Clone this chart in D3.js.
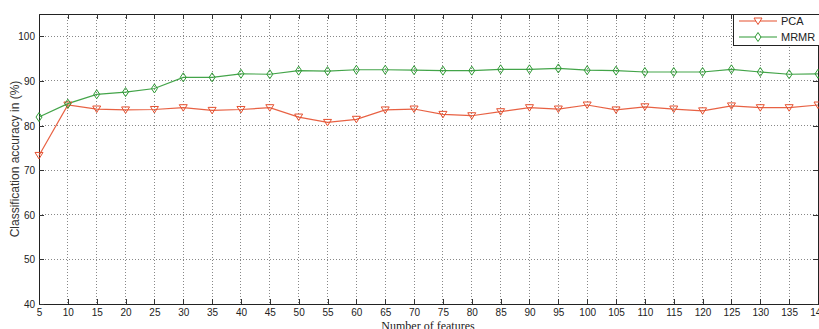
<!DOCTYPE html>
<html><head><meta charset="utf-8">
<script src="https://cdn.jsdelivr.net/npm/d3@7"></script>
<style>body{margin:0;background:#fff}svg{display:block}</style>
</head><body>
<svg id="c" width="819" height="329"></svg>
<script>
const features = [5,10,15,20,25,30,35,40,45,50,55,60,65,70,75,80,85,90,95,100,105,110,115,120,125,130,135,140];
const pca  = [73.3,84.6,83.7,83.5,83.6,84.0,83.4,83.6,84.0,81.9,80.7,81.4,83.5,83.7,82.5,82.2,83.1,84.0,83.7,84.6,83.5,84.2,83.7,83.3,84.4,84.0,84.0,84.6];
const mrmr = [81.9,84.9,87.0,87.5,88.3,90.8,90.8,91.6,91.5,92.3,92.2,92.5,92.5,92.4,92.3,92.3,92.6,92.6,92.8,92.4,92.3,92.0,92.0,92.0,92.6,92.0,91.5,91.6];
const yTicks = [40,50,60,70,80,90,100];
const seriesNames = ["PCA","MRMR"];

const svg = d3.select("#c");
const L=39, R=818, T=14, B=304;
const x = d3.scaleLinear().domain([5,140]).range([L,R]);
const y = d3.scaleLinear().domain([40,105]).range([B,T]);
const tickFont = "Liberation Sans, Arial, sans-serif";

// grid
const g = svg.append("g");
g.selectAll(".vg").data(features.slice(1,-1)).enter().append("line")
  .attr("x1",d=>x(d)).attr("x2",d=>x(d)).attr("y1",T).attr("y2",B)
  .attr("stroke","#888").attr("stroke-width",1).attr("stroke-dasharray","1,2").attr("shape-rendering","crispEdges");
g.selectAll(".hg").data(yTicks.slice(1)).enter().append("line")
  .attr("x1",L).attr("x2",R).attr("y1",d=>y(d)).attr("y2",d=>y(d))
  .attr("stroke","#888").attr("stroke-width",1).attr("stroke-dasharray","1,2").attr("shape-rendering","crispEdges");

// axes
const xb = d3.axisBottom(x).tickValues(features).tickSizeInner(-5).tickSizeOuter(0).tickPadding(5);
const xt = d3.axisTop(x).tickValues(features).tickSizeInner(-5).tickSizeOuter(0).tickFormat("");
const yl = d3.axisLeft(y).tickValues(yTicks).tickSizeInner(-5).tickSizeOuter(0).tickPadding(4);
const yr = d3.axisRight(y).tickValues(yTicks).tickSizeInner(-5).tickSizeOuter(0).tickFormat("");
function style(sel){
  sel.selectAll("path").attr("stroke","#222").attr("shape-rendering","crispEdges");
  sel.selectAll("line").attr("stroke","#333").attr("shape-rendering","crispEdges");
  sel.selectAll("text").attr("font-family",tickFont).attr("font-size","10px").attr("fill","#222");
}
svg.append("g").attr("transform",`translate(0,${B})`).call(xb).call(style);
svg.append("g").attr("transform",`translate(0,${T})`).call(xt).call(style);
svg.append("g").attr("transform",`translate(${L},0)`).call(yl).call(style).selectAll("text").attr("dy","0.35em");
svg.append("g").attr("transform",`translate(${R},0)`).call(yr).call(style);

// lines
const colors = {PCA:"#e5502f", MRMR:"#2f9a35"};
const line = d3.line().x((d,i)=>x(features[i])).y(d=>y(d));
[["PCA",pca],["MRMR",mrmr]].forEach(([name,vals])=>{
  svg.append("path").datum(vals).attr("d",line).attr("fill","none")
    .attr("stroke",colors[name]).attr("stroke-width",1.2).attr("stroke-opacity",0.9);
});
const tri = "M-4,-3L4,-3L0,3.5Z";
const dia = "M0,-4.5L3,0L0,4.5L-3,0Z";
svg.selectAll(".mp").data(pca).enter().append("path")
  .attr("d",tri).attr("transform",(d,i)=>`translate(${x(features[i])},${y(d)})`)
  .attr("fill","none").attr("stroke",colors.PCA).attr("stroke-width",1);
svg.selectAll(".mm").data(mrmr).enter().append("path")
  .attr("d",dia).attr("transform",(d,i)=>`translate(${x(features[i])},${y(d)})`)
  .attr("fill","none").attr("stroke",colors.MRMR).attr("stroke-width",1);

// legend
const lg = svg.append("g");
lg.append("rect").attr("x",733.5).attr("y",14.5).attr("width",90).attr("height",31)
  .attr("fill","#fff").attr("stroke","#222").attr("stroke-width",1);
const ly = [21,37];
seriesNames.forEach((n,i)=>{
  lg.append("line").attr("x1",739).attr("x2",777).attr("y1",ly[i]).attr("y2",ly[i])
    .attr("stroke",colors[n]).attr("stroke-width",1.2);
  lg.append("path").attr("d",i===0?tri:dia).attr("transform",`translate(758,${ly[i]})`)
    .attr("fill","#fff").attr("stroke",colors[n]).attr("stroke-width",1);
  lg.append("text").attr("x",781).attr("y",ly[i]).attr("dy","0.35em")
    .attr("font-family",tickFont).attr("font-size","11px").attr("fill","#222").text(n);
});

// labels
svg.append("text").attr("transform",`translate(19,${(T+B)/2}) rotate(-90)`)
  .attr("text-anchor","middle").attr("font-family",tickFont).attr("font-size","12px").attr("fill","#333")
  .text("Classification accuracy in (%)");
svg.append("text").attr("x",428).attr("y",330).attr("text-anchor","middle")
  .attr("font-family","Liberation Serif, Times New Roman, serif").attr("font-size","12px").attr("fill","#222")
  .text("Number of features");
</script>
</body></html>
